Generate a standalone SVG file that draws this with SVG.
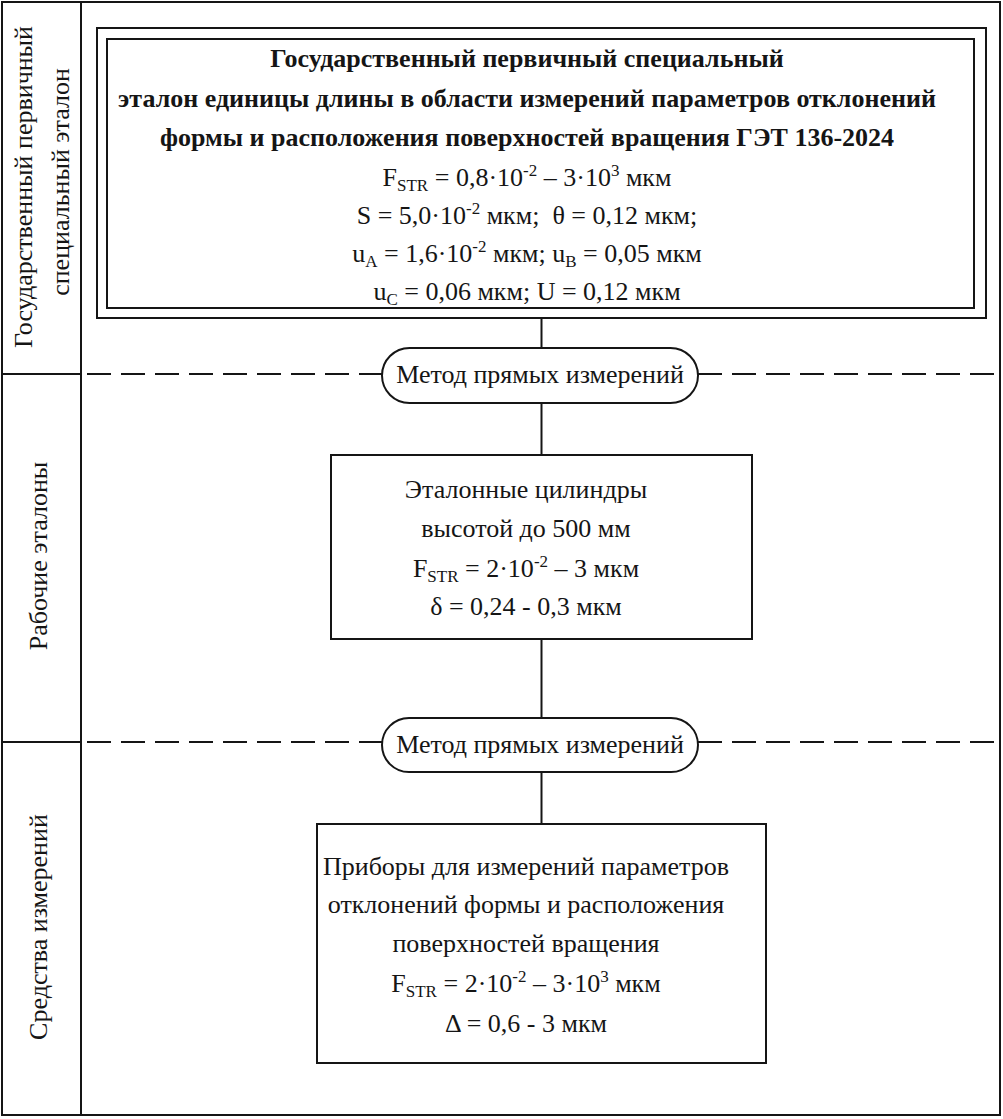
<svg xmlns="http://www.w3.org/2000/svg" width="1003" height="1119" viewBox="0 0 1003 1119">
<style>
.ln{fill:none;stroke:#151515;stroke-width:2}
.dash{fill:none;stroke:#151515;stroke-width:2;stroke-dasharray:24 10}
.t{font-family:"Liberation Serif","Times New Roman",serif;font-size:26px;fill:#151515;text-anchor:middle}
.b{font-weight:bold}
.s{font-size:17px}
</style>
<rect width="1003" height="1119" fill="#ffffff"/>
<g id="frame">
<rect class="ln" x="2" y="2" width="998" height="1113"/>
<line class="ln" x1="81" y1="2" x2="81" y2="1115"/>
<line class="ln" x1="2" y1="374" x2="81" y2="374"/>
<line class="ln" x1="2" y1="742" x2="81" y2="742"/>
<line class="dash" x1="87" y1="374" x2="382" y2="374"/>
<line class="dash" x1="698" y1="374" x2="1000" y2="374"/>
<line class="dash" x1="87" y1="742" x2="382" y2="742"/>
<line class="dash" x1="698" y1="742" x2="1000" y2="742"/>
</g>
<g id="labels">
<text class="t" transform="translate(32,187) rotate(-90)">Государственный первичный</text>
<text class="t" transform="translate(69,182) rotate(-90)">специальный эталон</text>
<text class="t" transform="translate(47,556) rotate(-90)">Рабочие эталоны</text>
<text class="t" transform="translate(47,927) rotate(-90)">Средства измерений</text>
</g>
<g id="connectors">
<line class="ln" x1="541.5" y1="318" x2="541.5" y2="348"/>
<line class="ln" x1="541.5" y1="403" x2="541.5" y2="455"/>
<line class="ln" x1="541.5" y1="639" x2="541.5" y2="718"/>
<line class="ln" x1="541.5" y1="772" x2="541.5" y2="824"/>
</g>
<g id="node-get">
<rect class="ln" x="97" y="28" width="889" height="290"/>
<rect class="ln" x="107" y="39" width="867" height="269"/>
<text class="t b" x="527" y="67">Государственный первичный специальный</text>
<text class="t b" x="527" y="107">эталон единицы длины в области измерений параметров отклонений</text>
<text class="t b" x="527" y="146">формы и расположения поверхностей вращения ГЭТ 136-2024</text>
<text class="t" x="527" y="186">F<tspan class="s" dy="5">STR</tspan><tspan dy="-5"> = 0,8·10</tspan><tspan class="s" dy="-10">-2</tspan><tspan dy="10"> – 3·10</tspan><tspan class="s" dy="-10">3</tspan><tspan dy="10"> мкм</tspan></text>
<text class="t" x="527" y="224">S = 5,0·10<tspan class="s" dy="-10">-2</tspan><tspan dy="10"> мкм;&#160; θ = 0,12 мкм;</tspan></text>
<text class="t" x="527" y="262">u<tspan class="s" dy="5">A</tspan><tspan dy="-5"> = 1,6·10</tspan><tspan class="s" dy="-10">-2</tspan><tspan dy="10"> мкм; u</tspan><tspan class="s" dy="5">B</tspan><tspan dy="-5"> = 0,05 мкм</tspan></text>
<text class="t" x="527" y="300">u<tspan class="s" dy="5">C</tspan><tspan dy="-5"> = 0,06 мкм; U = 0,12 мкм</tspan></text>
</g>
<g id="method-1">
<rect class="ln" x="382" y="348" width="316" height="55" rx="27.5"/>
<text class="t" x="540" y="383">Метод прямых измерений</text>
</g>
<g id="node-working">
<rect class="ln" x="331" y="455" width="421" height="184"/>
<text class="t" x="526" y="498">Эталонные цилиндры</text>
<text class="t" x="526" y="537">высотой до 500 мм</text>
<text class="t" x="526" y="577">F<tspan class="s" dy="5">STR</tspan><tspan dy="-5"> = 2·10</tspan><tspan class="s" dy="-10">-2</tspan><tspan dy="10"> – 3 мкм</tspan></text>
<text class="t" x="526" y="615">δ = 0,24 - 0,3 мкм</text>
</g>
<g id="method-2">
<rect class="ln" x="382" y="718" width="316" height="54" rx="27"/>
<text class="t" x="540" y="753">Метод прямых измерений</text>
</g>
<g id="node-instruments">
<rect class="ln" x="317" y="824" width="449" height="239"/>
<text class="t" x="526" y="875">Приборы для измерений параметров</text>
<text class="t" x="526" y="913">отклонений формы и расположения</text>
<text class="t" x="526" y="952">поверхностей вращения</text>
<text class="t" x="526" y="992">F<tspan class="s" dy="5">STR</tspan><tspan dy="-5"> = 2·10</tspan><tspan class="s" dy="-10">-2</tspan><tspan dy="10"> – 3·10</tspan><tspan class="s" dy="-10">3</tspan><tspan dy="10"> мкм</tspan></text>
<text class="t" x="526" y="1032">Δ = 0,6 - 3 мкм</text>
</g>
</svg>
